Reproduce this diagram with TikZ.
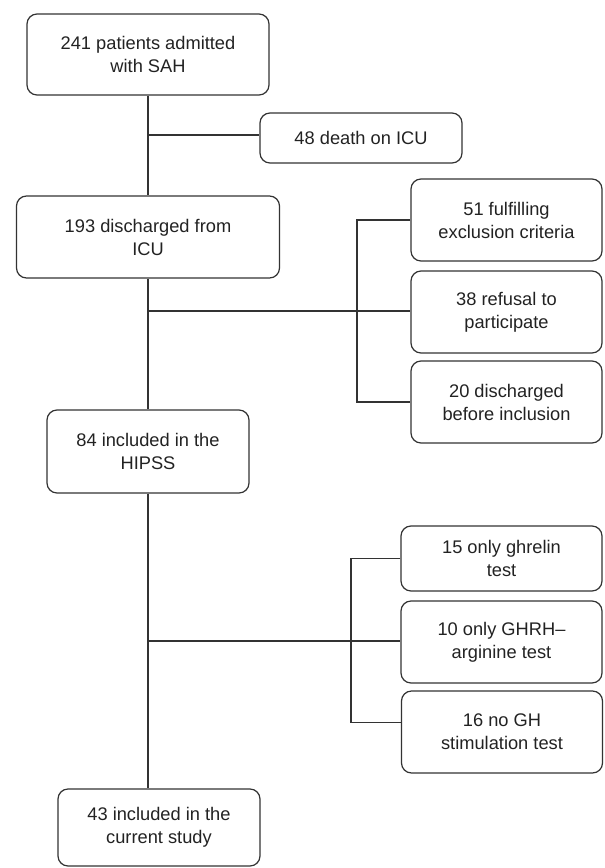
\documentclass[tikz,border=0pt]{standalone}
\usepackage{fontspec}
\setmainfont{Liberation Sans}
\usetikzlibrary{calc}
\definecolor{linec}{HTML}{333333}
\definecolor{textc}{HTML}{222222}
\begin{document}
\begin{tikzpicture}[x=0.75pt,y=-0.75pt,
  flowbox/.style={draw=linec, line width=0.9pt, rounded corners=7.5pt, align=center,
    inner sep=0pt, text=textc, font=\fontsize{13.7pt}{17.25pt}\selectfont},
  conn/.style={draw=linec, line width=0.9pt}]
\useasboundingbox (0,0) rectangle (604,868);

% main column
\node[flowbox, minimum width=181.5pt, minimum height=60.75pt] (b1) at (148,54.5) {241 patients admitted\\with SAH};
\node[flowbox, minimum width=151.5pt, minimum height=37.5pt] (b48) at (361,138) {48 death on ICU};
\node[flowbox, minimum width=197.25pt, minimum height=61.5pt] (b2) at (148,237) {193 discharged from\\ICU};
\node[flowbox, minimum width=143.25pt, minimum height=61.5pt] (b51) at (506.5,220) {51 fulfilling\\exclusion criteria};
\node[flowbox, minimum width=143.25pt, minimum height=61.5pt] (b38) at (506.5,312) {38 refusal to\\participate};
\node[flowbox, minimum width=143.25pt, minimum height=61.5pt] (b20) at (506.5,402) {20 discharged\\before inclusion};
\node[flowbox, minimum width=151.5pt, minimum height=62.25pt] (b84) at (148,451.5) {84 included in the\\HIPSS};
\node[flowbox, minimum width=150.75pt, minimum height=48.75pt] (b15) at (501.5,558.5) {15 only ghrelin\\test};
\node[flowbox, minimum width=150.75pt, minimum height=61.5pt] (b10) at (501.5,642) {10 only GHRH--\\arginine test};
\node[flowbox, minimum width=150.75pt, minimum height=61.5pt] (b16) at (502,732) {16 no GH\\stimulation test};
\node[flowbox, minimum width=151.5pt, minimum height=57.75pt] (b43) at (159,827.5) {43 included in the\\current study};

% junctions
\coordinate (j1) at (148,135);
\coordinate (j2) at (148,311);
\coordinate (j3) at (148,641);
\coordinate (k1) at (357,0);
\coordinate (k2) at (351,0);
\coordinate (s16) at ($(b16.north west)+(0,32)$);

% connectors
\draw[conn] (b1.south) -- (b2.north);
\draw[conn] (j1) -- (j1 -| b48.west);
\draw[conn] (b2.south) -- (b84.north);
\draw[conn] (j2) -- (j2 -| b38.west);
\draw[conn] (b51.west) -- (b51.west -| k1) -- (b20.west -| k1) -- (b20.west);
\draw[conn] (b84.south) -- (b84.south |- b43.north);
\draw[conn] (j3) -- (j3 -| b10.west);
\draw[conn] (b15.west) -- (b15.west -| k2) -- (s16 -| k2) -- (s16);
\end{tikzpicture}
\end{document}
